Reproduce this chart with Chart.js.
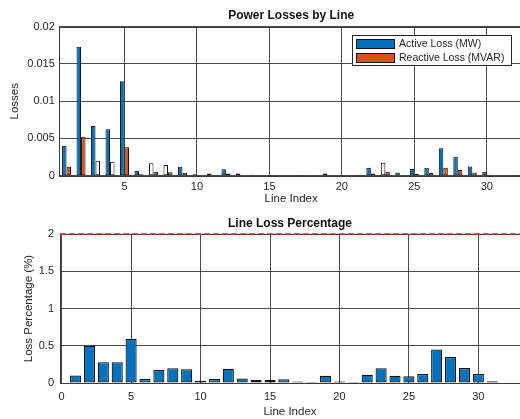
<!DOCTYPE html>
<html>
<head>
<meta charset="utf-8">
<script src="https://cdn.jsdelivr.net/npm/chart.js@4.4.1/dist/chart.umd.min.js"></script>
<style>
  html, body { margin: 0; padding: 0; background: #fff; }
  body { width: 520px; height: 419px; overflow: hidden; position: relative; }
  canvas { position: absolute; left: 0; }
  #top { top: 0; }
  #bottom { top: 210px; }
</style>
</head>
<body>
<canvas id="top" width="524" height="210"></canvas>
<canvas id="bottom" width="521" height="209"></canvas>
<script>
// line numbers
const lines = [1, 2, 3, 4, 5, 6, 7, 8, 9, 10, 11, 12, 13, 14, 15, 16,
  17, 18, 19, 20, 21, 22, 23, 24, 25, 26, 27, 28, 29, 30, 31, 32];

// power losses per line
const activeLoss = [0.00403, 0.0173, 0.00667, 0.00623, 0.01267, 0.00067, 0.00166, 0.00142,
  0.0012, 0.0002, 0.0003, 0.00085, 0.00028, 0.00012, 0.00005, 0.00008,
  0.00004, 0.00006, 0.0003, 0.00003, 0.00003, 0.00107, 0.00174, 0.00044,
  0.0009, 0.00107, 0.0037, 0.00255, 0.00125, 0.00054, 0.00006, 0.00004];
const reactiveLoss = [0.0012, 0.00523, 0.00201, 0.00188, 0.00381, 0.0002, 0.00054, 0.00045,
  0.0004, 0.0001, 0.0001, 0.0003, 0.0001, 0.00004, 0.00002, 0.00003,
  0.00001, 0.00002, 0.0001, 0.00001, 0.00001, 0.0003, 0.00054, 0.0001,
  0.00027, 0.00035, 0.00107, 0.00075, 0.00044, 0.00012, 0.00002, 0.00001];

// loss percentage per line
const lossPct = [0.1, 0.5, 0.28, 0.28, 0.59, 0.054, 0.175, 0.197,
  0.184, 0.03, 0.054, 0.19, 0.06, 0.04, 0.04, 0.05,
  0.02, 0.015, 0.098, 0.02, 0.015, 0.11, 0.197, 0.098,
  0.09, 0.12, 0.45, 0.35, 0.2, 0.12, 0.025, 0.008];
const lossLimit = 2;

const topXTicks = [5, 10, 15, 20, 25, 30];
const topYTicks = [0, 0.005, 0.01, 0.015, 0.02];
const botXTicks = [0, 5, 10, 15, 20, 25, 30];
const botYTicks = [0, 0.5, 1, 1.5, 2];

// bars that came out unfilled in the original render
const hollowActive = [7, 8, 23];
const hollowReactive = [3, 4];

const FONT = "'Liberation Sans', Arial, sans-serif";
const BLUE = '#0072BD';
const ORANGE = '#D95319';
const GRID = 'rgba(45,45,45,0.85)';
const TXT = '#262626';

function pts(ys) {
  return lines.map((l, i) => ({ x: l, y: ys[i] }));
}

const boxPlugin = {
  id: 'box',
  beforeDatasetsDraw(chart) {
    const { ctx, chartArea: a } = chart;
    ctx.save();
    ctx.strokeStyle = '#3a3a3a';
    ctx.lineWidth = 1;
    ctx.strokeRect(Math.round(a.left) + 0.5, Math.round(a.top) + 0.5,
      Math.round(a.right - a.left), Math.round(a.bottom - a.top));
    ctx.restore();
  }
};

const legendPlugin = {
  id: 'boxLegend',
  afterDraw(chart) {
    const ctx = chart.ctx;
    ctx.save();
    ctx.fillStyle = '#fff';
    ctx.fillRect(352, 35, 160, 31);
    ctx.strokeStyle = '#262626';
    ctx.lineWidth = 1;
    ctx.strokeRect(352.5, 35.5, 159, 30);
    const items = [['Active Loss (MW)', BLUE], ['Reactive Loss (MVAR)', ORANGE]];
    ctx.font = '10.5px ' + FONT;
    ctx.textBaseline = 'middle';
    items.forEach((it, i) => {
      const y = 39 + i * 14;
      ctx.fillStyle = it[1];
      ctx.fillRect(356, y, 39, 10);
      ctx.strokeStyle = '#111';
      ctx.strokeRect(356.5, y + 0.5, 38, 9);
      ctx.fillStyle = TXT;
      ctx.fillText(it[0], 399, y + 5.5);
    });
    ctx.restore();
  }
};

function xAxis(min, max, ticks, height, padding, titlePad) {
  return {
    type: 'linear',
    min: min,
    max: max,
    offset: false,
    afterBuildTicks: s => { s.ticks = ticks.map(v => ({ value: v })); },
    afterFit: s => { s.height = height; },
    grid: { color: GRID, drawTicks: false, offset: false },
    border: { display: false },
    ticks: { color: TXT, font: { family: FONT, size: 11 }, padding: padding, maxRotation: 0,
      callback: v => String(v) },
    title: { display: true, text: 'Line Index', color: TXT,
      font: { family: FONT, size: 11.5 }, padding: { top: 0, bottom: titlePad } }
  };
}

function yAxis(ticks, width, padding, title, titlePad) {
  return {
    min: ticks[0],
    max: ticks[ticks.length - 1],
    afterBuildTicks: s => { s.ticks = ticks.map(v => ({ value: v })); },
    afterFit: s => { s.width = width; },
    grid: { color: GRID, drawTicks: false },
    border: { display: false },
    ticks: { color: TXT, font: { family: FONT, size: 11 }, padding: padding,
      callback: v => String(v) },
    title: { display: true, text: title, color: TXT,
      font: { family: FONT, size: 11.5 }, padding: { top: titlePad, bottom: 0 } }
  };
}

var ctx = document.getElementById('top').getContext('2d');
var ctx2 = document.getElementById('bottom').getContext('2d');

var config = {
  type: 'bar',
  data: {
    datasets: [{
      label: 'Active Loss (MW)',
      data: pts(activeLoss),
      backgroundColor: c => hollowActive.includes(c.raw.x) ? '#fff' : BLUE,
      borderColor: '#111',
      borderWidth: 1,
      borderSkipped: false,
      categoryPercentage: 0.62,
      barPercentage: 1.0
    }, {
      label: 'Reactive Loss (MVAR)',
      data: pts(reactiveLoss),
      backgroundColor: c => hollowReactive.includes(c.raw.x) ? '#fff' : ORANGE,
      borderColor: '#111',
      borderWidth: 1,
      borderSkipped: false,
      categoryPercentage: 0.62,
      barPercentage: 1.0
    }]
  },
  options: {
    responsive: false,
    animation: false,
    devicePixelRatio: 1,
    layout: { padding: { left: 0, right: 1, top: 0, bottom: 0 } },
    plugins: {
      legend: { display: false },
      tooltip: { enabled: false },
      title: { display: true, text: 'Power Losses by Line', fullSize: false, color: '#111',
        font: { family: FONT, size: 12, weight: 'bold' }, padding: { top: 8, bottom: 4.3 } }
    },
    scales: {
      x: xAxis(0.5, 32.5, topXTicks, 34.3, 5, 4),
      y: yAxis(topYTicks, 59.3, 4.5, 'Losses', 8)
    }
  },
  plugins: [boxPlugin, legendPlugin]
};

var config2 = {
  type: 'bar',
  data: {
    datasets: [{
      type: 'line',
      label: 'Limit',
      data: [{ x: -0.12, y: lossLimit }, { x: 33, y: lossLimit }],
      borderColor: '#e02020',
      borderWidth: 1.5,
      borderDash: [6, 3],
      pointRadius: 0,
      clip: 4
    }, {
      label: 'Loss %',
      data: pts(lossPct),
      backgroundColor: BLUE,
      borderColor: '#111',
      borderWidth: 1.2,
      borderSkipped: false,
      categoryPercentage: 0.8,
      barPercentage: 1.0
    }]
  },
  options: {
    responsive: false,
    animation: false,
    devicePixelRatio: 1,
    layout: { padding: { left: 0, right: 1, top: 0, bottom: 0 } },
    plugins: {
      legend: { display: false },
      tooltip: { enabled: false },
      title: { display: true, text: 'Line Loss Percentage', fullSize: false, color: '#111',
        font: { family: FONT, size: 12, weight: 'bold' }, padding: { top: 6.5, bottom: 3.1 } }
    },
    scales: {
      x: xAxis(-0.12, 33, botXTicks, 36, 7.5, 0.5),
      y: yAxis(botYTicks, 60, 6, 'Loss Percentage (%)', 22)
    }
  },
  plugins: [boxPlugin]
};

var myChart = new Chart(ctx, config);
var myChart2 = new Chart(ctx2, config2);
</script>
</body>
</html>
